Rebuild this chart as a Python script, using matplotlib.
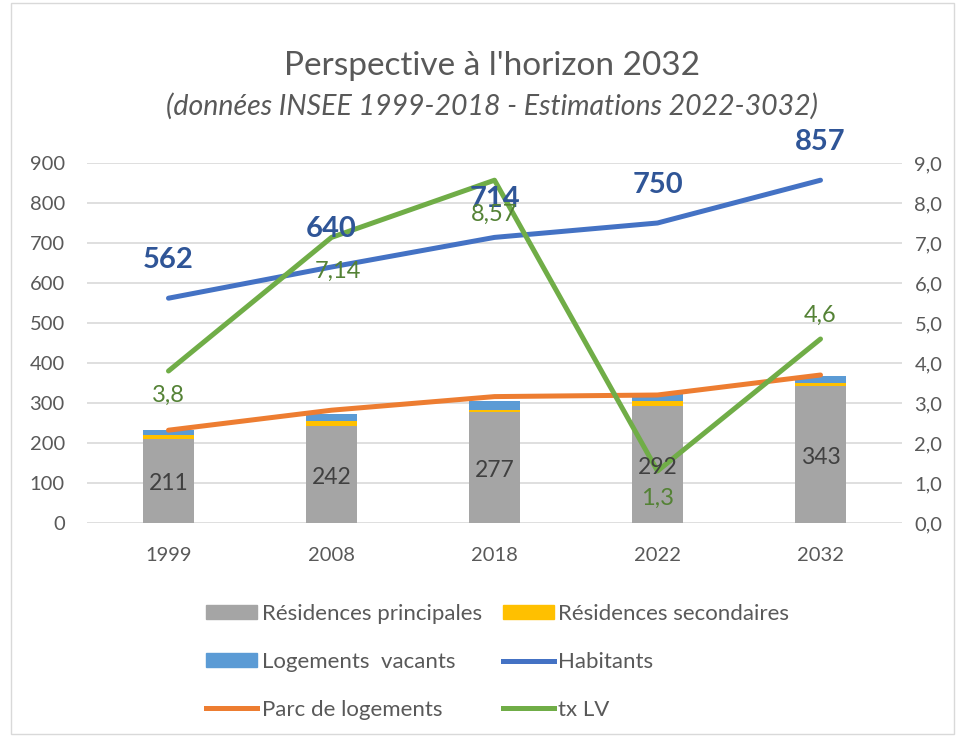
import matplotlib.pyplot as plt
import numpy as np
from matplotlib.patches import Patch, Rectangle
from matplotlib.lines import Line2D

plt.rcParams['font.family'] = ['Lato', 'DejaVu Sans']

# ── DATA ──────────────────────────────────────────
years = ['1999', '2008', '2018', '2022', '2032']
res_principales = [211, 242, 277, 292, 343]
res_secondaires = [9, 13, 6, 12, 8]
logements_vacants = [12, 17, 21, 19, 17]
habitants = [562, 640, 714, 750, 857]
parc_logements = [232, 282, 316, 320, 370]
tx_lv = [3.8, 7.14, 8.57, 1.3, 4.6]
tx_lv_labels = ['3,8', '7,14', '8,57', '1,3', '4,6']

# ── COLOURS ──────────────────────────────────────
c_rp, c_rs, c_lv = '#A5A5A5', '#FFC000', '#5B9BD5'
c_hab, c_parc, c_tx = '#4472C4', '#ED7D31', '#70AD47'
c_txt = '#595959'

fig = plt.figure(figsize=(9.56, 7.38), dpi=100)
ax = fig.add_axes([87/956, 1-523/738, (902-87)/956, 360/738])
ax2 = ax.twinx()

x = np.arange(len(years))
w = 0.31
rp = np.array(res_principales)
rs = np.array(res_secondaires)
ax.bar(x, rp, w, color=c_rp, zorder=2)
ax.bar(x, rs, w, bottom=rp, color=c_rs, zorder=2)
ax.bar(x, logements_vacants, w, bottom=rp + rs, color=c_lv, zorder=2)
ax.plot(x, parc_logements, color=c_parc, lw=3.6, solid_capstyle='round', zorder=3)
ax.plot(x, habitants, color=c_hab, lw=3.6, solid_capstyle='round', zorder=3)
ax2.plot(x, tx_lv, color=c_tx, lw=3.6, solid_capstyle='round', zorder=3)

# labels inside bars
for xi, v in zip(x, res_principales):
    ax2.text(xi, v / 2 - 8, str(v), transform=ax.transData, ha='center', va='center',
             fontsize=16.5, color='#404040', zorder=5)
# habitants labels
for xi, v in zip(x, habitants):
    ax2.text(xi, v + 95, str(v), transform=ax.transData, ha='center', va='center',
             fontsize=21, fontweight='bold', color='#2F5597', zorder=5)
# tx LV labels (8,57 sits under 714 as in the original)
offsets = [-0.6, -0.85, -0.85, -0.68, 0.58]
dx = [0, 0.04, 0, 0, 0]
for xi, v, lab, o, d in zip(x, tx_lv, tx_lv_labels, offsets, dx):
    ax2.text(xi + d, v + o, lab, ha='center', va='center', fontsize=17,
             color='#548235', zorder=5)

ax.set_xlim(-0.5, 4.5)
ax.set_ylim(0, 900)
ax2.set_ylim(0, 9)
ax.set_yticks(range(0, 901, 100))
ax2.set_yticks(range(0, 10))
ax2.set_yticklabels([f'{i},0' for i in range(10)])
ax.set_xticks(x)
ax.set_xticklabels(years)
ax.grid(axis='y', color='#D9D9D9', lw=1.2, zorder=0)
ax.set_axisbelow(True)
for a in (ax, ax2):
    for s in a.spines.values():
        s.set_visible(False)
    a.tick_params(length=0, labelsize=14.5, labelcolor=c_txt)
ax.tick_params(axis='x', pad=17)
ax.tick_params(axis='y', pad=16)
ax2.tick_params(axis='y', pad=9)

fig.text(0.515, 1-66/738, "Perspective à l'horizon 2032", ha='center', va='center',
         fontsize=24, color=c_txt)
fig.text(0.515, 1-106/738, "(données INSEE 1999-2018 - Estimations 2022-3032)",
         ha='center', va='center', fontsize=20.5, style='italic', color=c_txt)

handles = [Patch(color=c_rp), Patch(color=c_lv), Line2D([], [], color=c_parc, lw=3.6),
           Patch(color=c_rs), Line2D([], [], color=c_hab, lw=3.6), Line2D([], [], color=c_tx, lw=3.6)]
labels = ['Résidences principales', 'Logements  vacants', 'Parc de logements',
          'Résidences secondaires', 'Habitants', 'tx LV']
leg = fig.legend(handles, labels, ncol=2, loc='upper left', bbox_to_anchor=(206/956, 1-604/738),
                 frameon=False, fontsize=16, handlelength=2.3, handleheight=0.55,
                 handletextpad=0.2, columnspacing=0.95, labelspacing=1.25,
                 borderaxespad=0, borderpad=0)
for t in leg.get_texts():
    t.set_color(c_txt)

fig.patches.append(Rectangle((11/956, 4/738), 943/956, 731/738, transform=fig.transFigure,
                             fill=False, edgecolor='#D9D9D9', lw=1))

fig.savefig('out.png', dpi=100)
